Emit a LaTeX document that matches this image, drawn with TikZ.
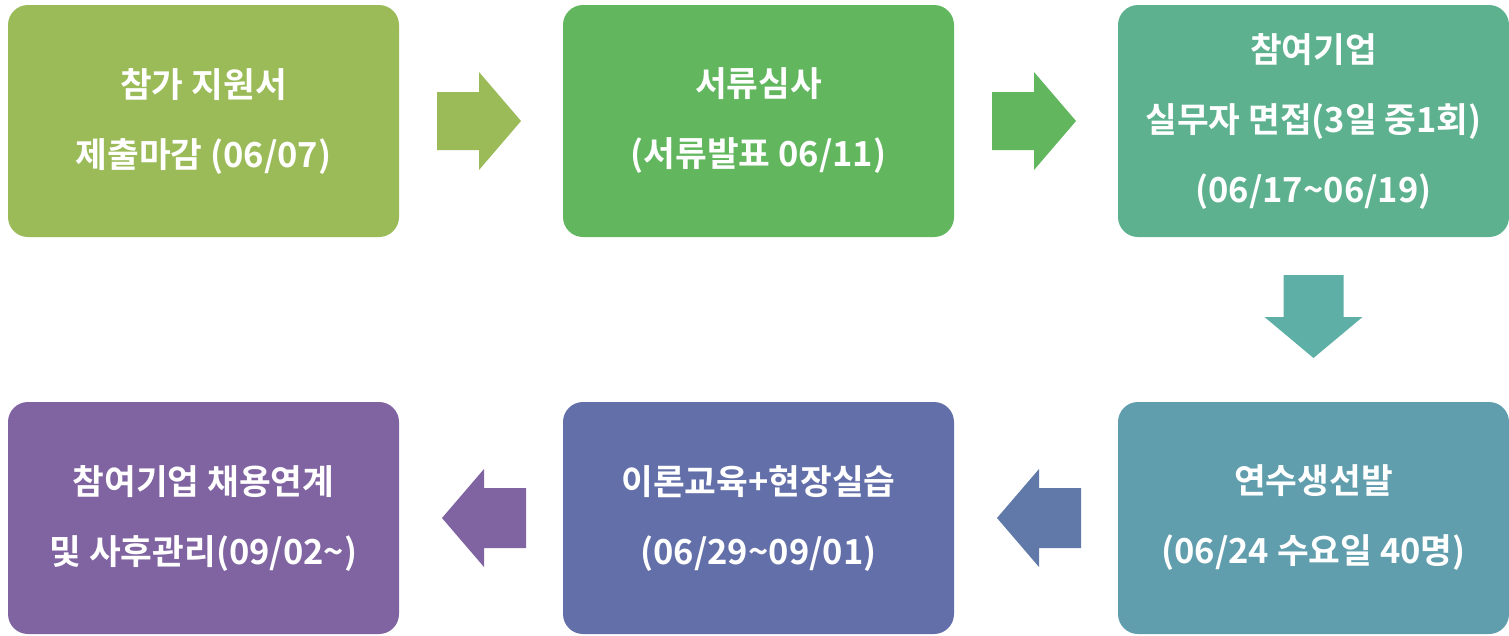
\documentclass[tikz,border=0pt]{standalone}
\usepackage{fontspec}
\newfontfamily\kr{Noto Sans CJK KR}[BoldFont={* Bold}]
\usetikzlibrary{calc}
\definecolor{cA}{HTML}{9BBB59}
\definecolor{cB}{HTML}{61B65E}
\definecolor{cC}{HTML}{5DB18F}
\definecolor{cD}{HTML}{5EAFA6}
\definecolor{cE}{HTML}{609DAD}
\definecolor{cF}{HTML}{6079A8}
\definecolor{cG}{HTML}{636FA9}
\definecolor{cH}{HTML}{8064A1}
\tikzset{
  box/.style={rectangle, rounded corners=20pt, minimum width=391pt, minimum height=232pt,
    inner sep=0pt, text=white, align=center,
    font=\kr\bfseries\fontsize{34.5}{70}\selectfont}
}
\begin{document}
\begin{tikzpicture}[x=1pt,y=-1pt]
\useasboundingbox (0,0) rectangle (1509,635);
\node[box, fill=cA] (b1) at (203.5,121) {참가 지원서\\제출마감 (06/07)};
\node[box, fill=cB] (b2) at (758.5,121) {서류심사\\(서류발표 06/11)};
\node[box, fill=cC] (b3) at (1313.5,121) {참여기업\\실무자 면접(3일 중1회)\\(06/17\textasciitilde06/19)};
\node[box, fill=cE] (b4) at (1313.5,518) {연수생선발\\(06/24 수요일 40명)};
\node[box, fill=cG] (b5) at (758.5,518) {이론교육+현장실습\\(06/29\textasciitilde09/01)};
\node[box, fill=cH] (b6) at (203.5,518) {참여기업 채용연계\\및 사후관리(09/02\textasciitilde)};
\coordinate (m1) at ($(b1.east)!0.5!(b2.west)$);
\coordinate (m2) at ($(b2.east)!0.5!(b3.west)$);
\coordinate (m3) at ($(b3.south)!0.5!(b4.north)$);
\coordinate (m4) at ($(b5.east)!0.5!(b4.west)$);
\coordinate (m5) at ($(b6.east)!0.5!(b5.west)$);
\fill[cA] (m1) ++(-44,-29) -- ++(42,0) -- ++(0,-20) -- ++(42,49) -- ++(-42,49) -- ++(0,-20) -- ++(-42,0) -- cycle;
\fill[cB] (m2) ++(-44,-29) -- ++(42,0) -- ++(0,-20) -- ++(42,49) -- ++(-42,49) -- ++(0,-20) -- ++(-42,0) -- cycle;
\fill[cD] (m3) ++(-30,-44.5) -- ++(60,0) -- ++(0,42) -- ++(19,0) -- ++(-49,41) -- ++(-49,-41) -- ++(19,0) -- cycle;
\fill[cF] (m4) ++(45,-30) -- ++(-42,0) -- ++(0,-19) -- ++(-42,49) -- ++(42,49) -- ++(0,-19) -- ++(42,0) -- cycle;
\fill[cH] (m5) ++(45,-30) -- ++(-42,0) -- ++(0,-19) -- ++(-42,49) -- ++(42,49) -- ++(0,-19) -- ++(42,0) -- cycle;
\end{tikzpicture}
\end{document}
